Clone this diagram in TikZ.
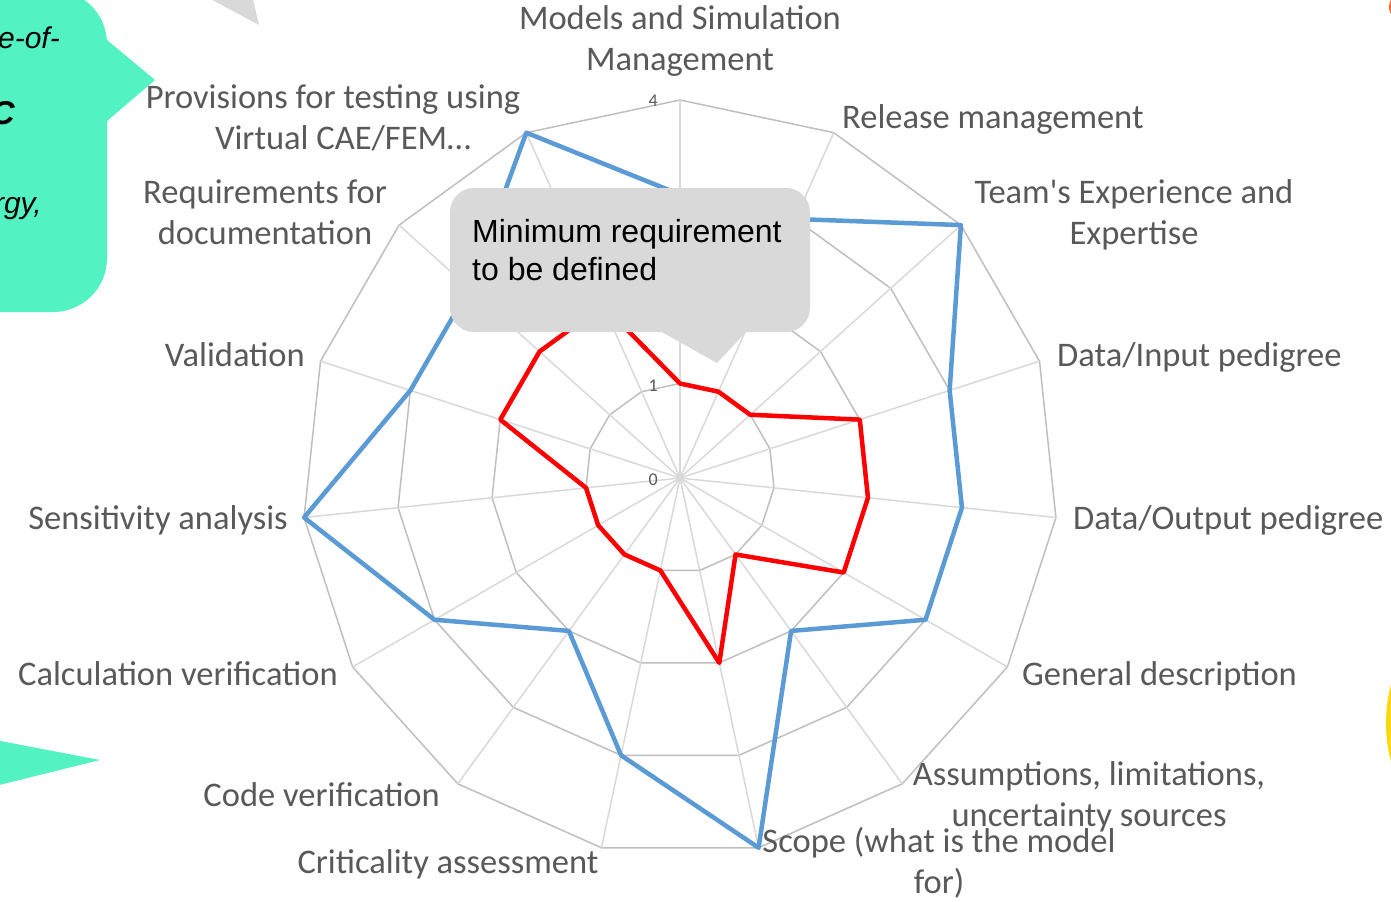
\documentclass[tikz,border=0pt]{standalone}
\usepackage{fontspec}
\setmainfont{Carlito}
\newfontfamily\arialfont{Liberation Sans}
\definecolor{labelgray}{HTML}{595959}
\definecolor{ringgray}{HTML}{BFBFBF}
\definecolor{spokegray}{HTML}{D9D9D9}
\definecolor{calloutgray}{HTML}{D9D9D9}
\definecolor{serieblue}{HTML}{5B9BD5}
\definecolor{seriered}{HTML}{FF0000}
\definecolor{mint}{HTML}{52F2C2}
\definecolor{sunyellow}{HTML}{FFD612}
\definecolor{flameorange}{HTML}{F26B3A}

\begin{document}
\begin{tikzpicture}[x=1bp,y=-1bp,
    lbl/.style={font=\fontsize{34.5bp}{41bp}\selectfont, text=labelgray, inner sep=0pt, align=center},
    tick/.style={font=\fontsize{18bp}{20bp}\selectfont, text=labelgray, inner sep=0pt},
    ring/.style={draw=ringgray, line width=1.5bp},
    spoke/.style={draw=spokegray, line width=1.5bp},
    serie/.style={line width=4.5bp, line join=round}]
    \useasboundingbox (0,0) rectangle (1391,901);
    \clip (0,0) rectangle (1391,901);
    \fill[white] (0,0) rectangle (1391,901);

    % bits of the neighbouring shapes
    \fill[mint, rounded corners=54] (-80,-10) rectangle (107,312);
    \fill[mint] (107,40) -- (155,80) -- (107,121) -- cycle;
    \fill[mint] (-5,740) -- (100,760) -- (-5,786) -- cycle;
    \fill[calloutgray] (203,-5) -- (259,25) -- (252,-5) -- cycle;
    \fill[sunyellow] (1536,723) circle (150);
    \fill[flameorange] (1394,7) ellipse (5 and 9);
    \node[anchor=base east, font=\arialfont\itshape\fontsize{30bp}{36bp}\selectfont, inner sep=0pt] (sidea) at (60,48) {e-of-};
    \node[anchor=base east, font=\arialfont\bfseries\itshape\fontsize{33bp}{38bp}\selectfont, inner sep=0pt] (sideb) at (15,124) {C};
    \node[anchor=base east, font=\arialfont\itshape\fontsize{30bp}{36bp}\selectfont, inner sep=0pt] (sidec) at (42,213) {rgy,};

    % radar grid and the two series
    \begin{scope}[shift={(680,478)}]
        \coordinate (O) at (0,0);
        \foreach \r in {1,...,4}
            \draw[ring] (-90:\r*94.5) \foreach \k in {1,...,14} { -- (24*\k-90:\r*94.5) } -- cycle;
        \foreach \k in {0,...,14}
            \draw[spoke] (O) -- (24*\k-90:378);
        \draw[serie, serieblue] (-90:3*94.5) \foreach \v [count=\k] in {3,4,3,3,3,2,4,3,2,3,4,3,3,4} { -- (24*\k-90:\v*94.5) } -- cycle;
        \draw[serie, seriered] (-90:1*94.5) \foreach \v [count=\k] in {1,1,2,2,2,1,2,1,1,1,1,2,2,2} { -- (24*\k-90:\v*94.5) } -- cycle;
    \end{scope}
    \node[tick, anchor=base east] (tick0) at (658,485) {0};
    \node[tick, anchor=base east] (tick1) at (658,391) {1};
    \node[tick, anchor=base east] (tick4) at (658,106) {4};

    % callout
    \fill[calloutgray, rounded corners=24] (450,188) rectangle (810,332);
    \fill[calloutgray] (660,331) -- (717,363) -- (747,331) -- cycle;
    \node[anchor=base west, font=\arialfont\fontsize{32bp}{38bp}\selectfont, align=left, inner sep=0pt] (note) at (472,280) {Minimum requirement\\to be defined};

    % axis labels (two-line ones sit on their last baseline)
    \node[lbl, anchor=base] (models) at (680,70) {Models and Simulation\\Management};
    \node[lbl, anchor=base west] (release) at (842,128) {Release management};
    \node[lbl, anchor=base] (team) at (1134,244) {Team\textquotesingle s Experience and\\Expertise};
    \node[lbl, anchor=base west] (datain) at (1057,366) {Data/Input pedigree};
    \node[lbl, anchor=base west] (dataout) at (1073,529) {Data/Output pedigree};
    \node[lbl, anchor=base west] (general) at (1022,685) {General description};
    \node[lbl, anchor=base] (assumptions) at (1089,826) {Assumptions, limitations,\\uncertainty sources};
    \node[lbl, anchor=base] (scopelbl) at (939,893) {Scope (what is the model\\for)};
    \node[lbl, anchor=base] (criticality) at (448,873) {Criticality assessment};
    \node[lbl, anchor=base east] (codever) at (440,806) {Code verification};
    \node[lbl, anchor=base east] (calcver) at (338,685) {Calculation verification};
    \node[lbl, anchor=base east] (sensitivity) at (288,529) {Sensitivity analysis};
    \node[lbl, anchor=base east] (validation) at (305,366) {Validation};
    \node[lbl, anchor=base] (requirements) at (265,244) {Requirements for\\documentation};
    \node[lbl, anchor=base] (provisions) at (333,149) {Provisions for testing using\\\hspace*{20bp}Virtual CAE/FEM…};
\end{tikzpicture}
\end{document}
